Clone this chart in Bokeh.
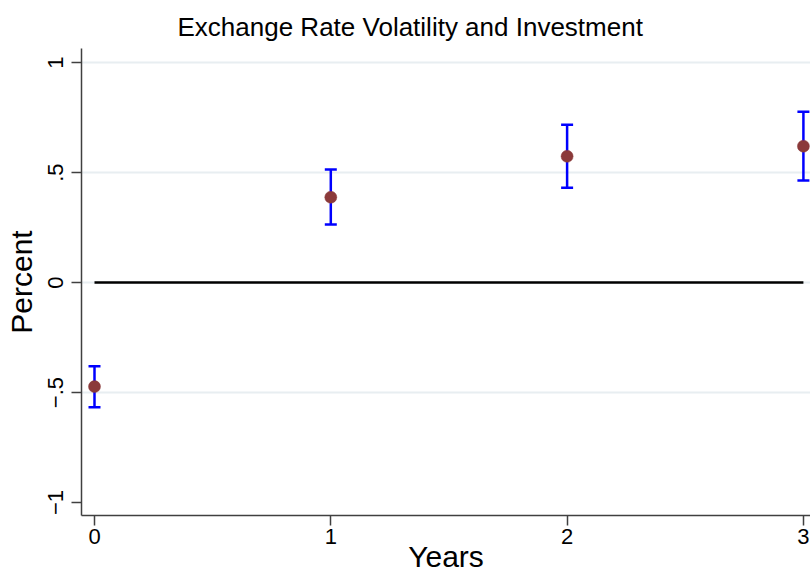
from bokeh.plotting import figure
from bokeh.models import FixedTicker, Whisker, TeeHead, ColumnDataSource, Range1d
from bokeh.embed import file_html
from bokeh.resources import INLINE

# ---- data ----
years = [0, 1, 2, 3]
estimate = [-0.473, 0.388, 0.574, 0.620]
ci_lower = [-0.567, 0.264, 0.431, 0.464]
ci_upper = [-0.380, 0.514, 0.717, 0.776]
zero_line_x = [0, 3]
zero_line_y = [0, 0]
y_ticks = [-1, -0.5, 0, 0.5, 1]
y_tick_labels = ["\u22121", "\u2212.5", "0", ".5", "1"]
x_ticks = [0, 1, 2, 3]
grid_ticks = [-0.5, 0, 0.5, 1]

FONT = "Liberation Sans"

src = ColumnDataSource(dict(x=years, y=estimate, lo=ci_lower, hi=ci_upper))

p = figure(width=810, height=577, output_backend="svg", toolbar_location=None,
           x_range=Range1d(-0.055, 3.03), y_range=Range1d(-1.059, 1.064),
           min_border_left=81, min_border_right=0, min_border_top=48,
           min_border_bottom=62)
p.outline_line_color = None
p.background_fill_color = "white"
p.border_fill_color = "white"

p.title.text = "Exchange Rate Volatility and Investment"
p.title.text_font = FONT
p.title.text_font_size = "26px"
p.title.text_font_style = "normal"
p.title.text_color = "black"
p.title.align = "left"
p.title.offset = 96
p.title.standoff = 13

# grid
p.xgrid.visible = False
p.ygrid.ticker = FixedTicker(ticks=grid_ticks)
p.ygrid.grid_line_color = "#E8EEF1"
p.ygrid.grid_line_width = 2

# axes
for ax in (p.xaxis[0], p.yaxis[0]):
    ax.axis_line_color = "#404040"
    ax.axis_line_width = 1.5
    ax.major_tick_line_color = "#404040"
    ax.major_tick_line_width = 1.5
    ax.major_tick_out = 10
    ax.major_tick_in = 0
    ax.minor_tick_line_color = None
    ax.major_label_text_font = FONT
    ax.major_label_text_font_size = "22px"
    ax.major_label_text_color = "black"
    ax.axis_label_text_font = FONT
    ax.axis_label_text_font_size = "30px"
    ax.axis_label_text_font_style = "normal"
    ax.axis_label_text_color = "black"

p.xaxis.ticker = FixedTicker(ticks=x_ticks)
p.xaxis.axis_label = "Years"
p.xaxis.major_label_standoff = 3
p.xaxis.axis_label_standoff = -7

p.yaxis.ticker = FixedTicker(ticks=y_ticks)
p.yaxis.major_label_overrides = {t: l for t, l in zip(y_ticks, y_tick_labels)}
p.yaxis.major_label_orientation = "vertical"
p.yaxis.axis_label = "Percent"
p.yaxis.major_label_standoff = 8
p.yaxis.axis_label_standoff = 8

# zero line
p.line(zero_line_x, zero_line_y, line_color="black", line_width=2.5)

# error bars
w = Whisker(source=src, base="x", lower="lo", upper="hi",
            line_color="#0000FF", line_width=2.5,
            lower_head=TeeHead(size=12, line_color="#0000FF", line_width=2.5),
            upper_head=TeeHead(size=12, line_color="#0000FF", line_width=2.5))
p.add_layout(w)

# points
p.scatter("x", "y", source=src, size=12, fill_color="#8B3A3A",
          line_color="#8B3A3A", line_width=0.5)

open("out.html", "w").write(file_html(p, INLINE))
